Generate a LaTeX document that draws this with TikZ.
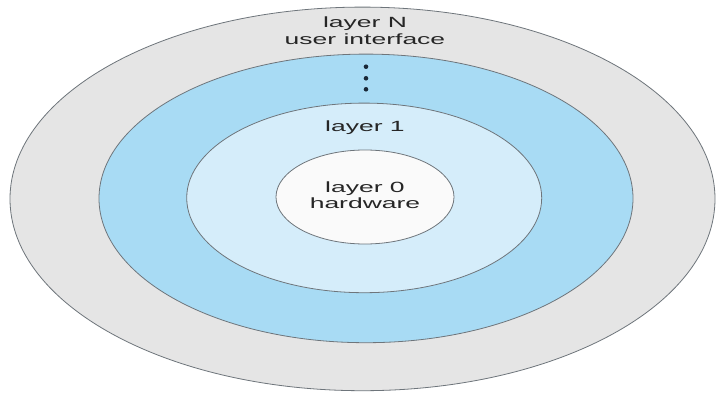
\documentclass[tikz,border=0pt]{standalone}
\usepackage{fontspec}
\setmainfont{Liberation Sans}
\usepackage{graphicx}
\usetikzlibrary{shapes.geometric}
\definecolor{ringgray}{RGB}{229,229,229}
\definecolor{ringblue}{RGB}{168,219,244}
\definecolor{ringlight}{RGB}{213,237,250}
\definecolor{ringwhite}{RGB}{250,250,250}
\definecolor{edgegray}{RGB}{110,117,123}
\definecolor{dotcol}{RGB}{25,40,55}
\tikzset{
  ring/.style={ellipse, draw=edgegray, line width=0.8pt, inner sep=0pt},
  lbl/.style={anchor=base, inner sep=0pt, font=\fontsize{14.8}{16}\selectfont, text=black!85},
  dotmark/.style={circle, fill=dotcol, inner sep=0pt, minimum size=4.6pt}
}
\newcommand{\wide}[1]{\scalebox{1.79}[1]{#1}}
\begin{document}
\begin{tikzpicture}[x=1pt,y=1pt]
\useasboundingbox[fill=white] (0,0) rectangle (716,392);
\node[ring, fill=ringgray, minimum width=705pt, minimum height=383.6pt] (outer) at (362.5,193.1) {};
\node[ring, fill=ringblue, minimum width=534pt, minimum height=288.6pt] (blue) at (366,193.6) {};
\node[ring, fill=ringlight, minimum width=355pt, minimum height=189.6pt] (light) at (364.2,194.1) {};
\node[ring, fill=ringwhite, minimum width=178pt, minimum height=94pt] (core) at (365,195) {};
\node[lbl] (lN) at (365,364) {\wide{layer N}};
\node[lbl] (ui) at (365,348) {\wide{user interface}};
\node[dotmark] (d1) at (366,325.3) {};
\node[dotmark] (d2) at (366,313.7) {};
\node[dotmark] (d3) at (366,302.7) {};
\node[lbl] (l1) at (365,261) {\wide{layer 1}};
\node[lbl] (l0) at (365,199.7) {\wide{layer 0}};
\node[lbl] (hw) at (365,183.7) {\wide{hardware}};
\end{tikzpicture}
\end{document}
